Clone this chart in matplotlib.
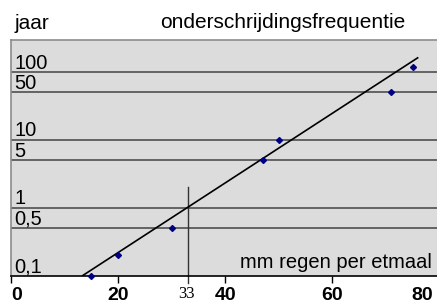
import matplotlib
matplotlib.use('Agg')
import matplotlib.pyplot as plt

# measured rainfall (mm per day) and return period (years)
rain_mm = [15, 20, 30, 47, 50, 71, 75]
return_years = [0.1, 0.2, 0.5, 5, 10, 50, 118]

# fitted trend line end points
fit_mm = [13.4, 75.9]
fit_years = [0.1, 160]

# horizontal reference levels and their labels
levels = [100, 50, 10, 5, 1, 0.5, 0.1]
level_labels = ['100', '50', '10', '5', '1', '0,5', '0,1']

x_ticks = [0, 20, 40, 60]
x_last = 80
x_marker = 33

plt.rcParams['font.family'] = ['Liberation Sans', 'DejaVu Sans']

W, H = 437, 307
fig = plt.figure(figsize=(W / 100, H / 100), dpi=100)
left, right, top, bottom = 11, 439.6, 40, 275.5
ax = fig.add_axes([left / W, 1 - bottom / H, (right - left) / W, (bottom - top) / H])
ax.set_facecolor('#dcdcdc')

ax.set_yscale('log')
ax.set_xlim(0, 80)
ax.set_ylim(0.1, 293)

for lv in levels[:-1]:
    ax.axhline(lv, color='#5a5a5a', lw=1.3, zorder=1)

for lv, lab in zip(levels, level_labels):
    ax.annotate(lab, xy=(0, lv), xytext=(2.5, 2.3), textcoords='offset points',
                fontsize=14.5, ha='left', va='baseline', color='black')

ax.plot(fit_mm, fit_years, color='black', lw=1.2, zorder=3)
ax.plot(rain_mm, return_years, 'D', color='#000080', markersize=3, zorder=4, clip_on=False)

# vertical reading line at 33 mm down past the axis
ax.plot([x_marker, x_marker], [0.1, 2], color='#333333', lw=1.0, zorder=2)
ax.plot([x_marker, x_marker], [0, -0.03], color='#333333', lw=1.0,
        transform=ax.get_xaxis_transform(), clip_on=False)
ax.annotate(str(x_marker), xy=(x_marker, 0.1), xytext=(-1, -7.5), textcoords='offset points',
            fontsize=12, family='Liberation Serif', ha='center', va='top')

ax.text(78.5, 0.129, 'mm regen per etmaal', fontsize=14.5, ha='right', va='baseline')

ax.set_xticks(x_ticks)
ax.set_xticklabels([str(t) for t in x_ticks], fontsize=14, fontweight='bold')
ax.tick_params(axis='x', length=4.7, width=1.0, pad=3.5, color='black')
ax.get_xticklabels()[0].set_ha('left')
# last label sits inside the figure edge
ax.annotate(str(x_last), xy=(x_last, 0.1), xytext=(-4.5, -8.2), textcoords='offset points',
            fontsize=14, fontweight='bold', ha='right', va='top', annotation_clip=False)
ax.set_yticks([])
ax.yaxis.set_minor_locator(matplotlib.ticker.NullLocator())

for s in ['left', 'top']:
    ax.spines[s].set_color('#8c8c8c')
    ax.spines[s].set_linewidth(1.2)
ax.spines['right'].set_visible(False)
ax.spines['bottom'].set_color('black')
ax.spines['bottom'].set_linewidth(1.2)

fig.text(15 / W, 1 - 29.3 / H, 'jaar', fontsize=15, va='baseline', ha='left')
fig.text(160 / W, 1 - 28.3 / H, 'onderschrijdingsfrequentie', fontsize=15, va='baseline', ha='left')

fig.savefig('out.png', dpi=100)
